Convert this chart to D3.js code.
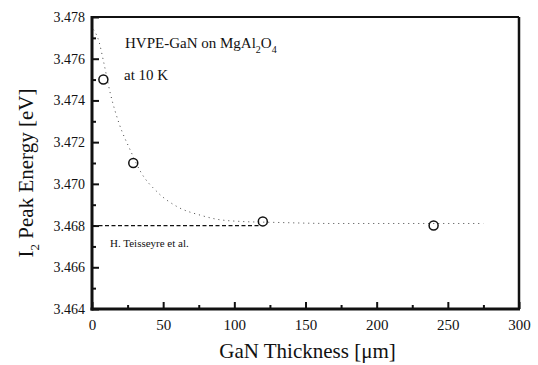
<!DOCTYPE html>
<html>
<head>
<meta charset="utf-8">
<script src="https://cdn.jsdelivr.net/npm/d3@7"></script>
</head>
<body style="margin:0">
<div id="vis"></div>
<script>
// measured points
var thickness = [8, 29, 120, 240];
var energy = [3.4750, 3.4710, 3.4682, 3.4680];

// dotted fit curve
var fitX = [1, 5, 8, 13, 19, 27, 34, 46, 60, 76, 88, 104, 130, 170, 210, 250, 275];
var fitY = [3.4774, 3.4768, 3.4759, 3.4743, 3.4729, 3.4716, 3.4706, 3.4696, 3.4689, 3.4685, 3.4683, 3.4682, 3.46815, 3.4681, 3.4681, 3.4681, 3.4681];

// dashed reference line (H. Teisseyre et al.)
var refX = [0, 117];
var refY = [3.468, 3.468];

var xTicks = [0, 50, 100, 150, 200, 250, 300];
var yTicks = [3.464, 3.466, 3.468, 3.470, 3.472, 3.474, 3.476, 3.478];

var FONT = "'Liberation Serif'";

var W = 538, H = 365;
var margin = { top: 17, right: 19, bottom: 56, left: 92 },
    width = W - margin.left - margin.right,
    height = H - margin.top - margin.bottom;

var svg = d3.select("#vis").append("svg")
    .attr("width", W).attr("height", H);

var g = svg.append("g")
    .attr("transform", "translate(" + margin.left + "," + margin.top + ")");

var x = d3.scaleLinear().domain([0, 300]).range([0, width]);
var y = d3.scaleLinear().domain([3.464, 3.478]).range([height, 0]);

// minor ticks
g.append("g")
    .attr("transform", "translate(0," + height + ")")
    .call(d3.axisBottom(x).tickValues(d3.range(25, 300, 50)).tickSize(-4).tickFormat(""))
    .call(function (s) { s.select(".domain").remove(); })
    .selectAll("line").attr("stroke", "#111").attr("stroke-width", 2);
g.append("g")
    .call(d3.axisLeft(y).tickValues(d3.range(3.465, 3.478, 0.002)).tickSize(-4).tickFormat(""))
    .call(function (s) { s.select(".domain").remove(); })
    .selectAll("line").attr("stroke", "#111").attr("stroke-width", 2);

// X axis
var xa = g.append("g")
    .attr("transform", "translate(0," + height + ")")
    .call(d3.axisBottom(x).tickValues(xTicks).tickSize(-7).tickPadding(12));
xa.attr("font-family", null).attr("font-size", null);
xa.select(".domain").remove();
xa.selectAll("line").attr("stroke", "#111").attr("stroke-width", 2);
xa.selectAll("text")
    .style("font-family", FONT)
    .attr("font-size", "15px")
    .attr("fill", "#111")
    .attr("dy", "0.6em");

// Y axis
var ya = g.append("g")
    .call(d3.axisLeft(y).tickValues(yTicks).tickSize(-7).tickPadding(7).tickFormat(d3.format(".3f")));
ya.attr("font-family", null).attr("font-size", null);
ya.select(".domain").remove();
ya.selectAll("line").attr("stroke", "#111").attr("stroke-width", 2);
ya.selectAll("text")
    .style("font-family", FONT)
    .attr("font-size", "14px")
    .attr("fill", "#111");

// frame
g.append("line").attr("x1", 0).attr("x2", width).attr("y1", 0).attr("y2", 0)
    .attr("stroke", "#111").attr("stroke-width", 2);
g.append("line").attr("x1", width).attr("x2", width).attr("y1", 0).attr("y2", height)
    .attr("stroke", "#111").attr("stroke-width", 2.5);
g.append("line").attr("x1", 0).attr("x2", 0).attr("y1", -1).attr("y2", height + 1.5)
    .attr("stroke", "#111").attr("stroke-width", 3);
g.append("line").attr("x1", -1.5).attr("x2", width + 1).attr("y1", height).attr("y2", height)
    .attr("stroke", "#111").attr("stroke-width", 3);

// dotted fit
var line = d3.line().curve(d3.curveMonotoneX)
    .x(function (d) { return x(d[0]); })
    .y(function (d) { return y(d[1]); });

g.append("path")
    .datum(d3.zip(fitX, fitY))
    .attr("d", line)
    .attr("fill", "none")
    .attr("stroke", "#444")
    .attr("stroke-width", 1)
    .attr("stroke-dasharray", "1,4");

// dashed reference
g.append("path")
    .datum(d3.zip(refX, refY))
    .attr("d", d3.line().x(function (d) { return x(d[0]); }).y(function (d) { return y(d[1]); }))
    .attr("fill", "none")
    .attr("stroke", "#111")
    .attr("stroke-width", 1.2)
    .attr("stroke-dasharray", "4,2.5");

// points
g.selectAll("circle.pt")
    .data(d3.zip(thickness, energy))
    .enter().append("circle")
    .attr("class", "pt")
    .attr("cx", function (d) { return x(d[0]); })
    .attr("cy", function (d) { return y(d[1]); })
    .attr("r", 4.5)
    .attr("fill", "none")
    .attr("stroke", "#111")
    .attr("stroke-width", 1.5);

// annotations
var t1 = g.append("text").attr("x", 33).attr("y", 31)
    .style("font-family", FONT).attr("font-size", "15px").attr("fill", "#111");
t1.append("tspan").text("HVPE-GaN on MgAl");
t1.append("tspan").attr("dy", 5).attr("font-size", "10px").text("2");
t1.append("tspan").attr("dy", -5).text("O");
t1.append("tspan").attr("dy", 5).attr("font-size", "10px").text("4");

g.append("text").attr("x", 32).attr("y", 63)
    .style("font-family", FONT).attr("font-size", "15px").attr("fill", "#111")
    .text("at 10 K");

g.append("text").attr("x", 18).attr("y", y(3.468) + 21)
    .style("font-family", FONT).attr("font-size", "11px").attr("fill", "#111")
    .text("H. Teisseyre et al.");

// axis titles
svg.append("text")
    .attr("x", margin.left + x(150) + 2)
    .attr("y", 358)
    .attr("text-anchor", "middle")
    .style("font-family", FONT)
    .attr("font-size", "21px")
    .attr("fill", "#111")
    .text("GaN Thickness [μm]");

var yt = svg.append("text")
    .attr("transform", "translate(33," + 173 + ") rotate(-90)")
    .attr("text-anchor", "middle")
    .style("font-family", FONT)
    .attr("font-size", "21px")
    .attr("fill", "#111");
yt.append("tspan").text("I");
yt.append("tspan").attr("dy", 6).attr("font-size", "13px").text("2");
yt.append("tspan").attr("dy", -6).text(" Peak Energy [eV]");
</script>
</body>
</html>
